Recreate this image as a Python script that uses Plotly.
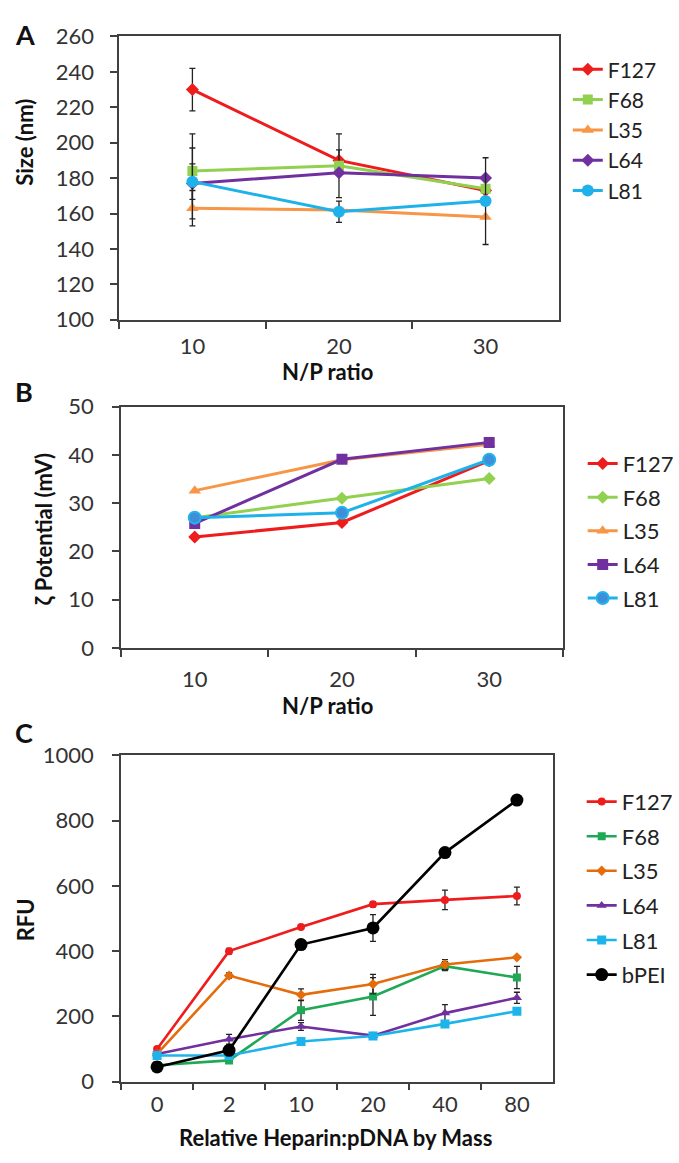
import plotly.graph_objects as go

NaN = float("nan")

# ---------- Panel A: size ----------
np_cats = ["10", "20", "30"]
series_ab = ["F127", "F68", "L35", "L64", "L81"]
size_vals = {
    "F127": [230, 190, 173],
    "F68": [184, 187, 174],
    "L35": [163, 162, 158],
    "L64": [177, 183, 180],
    "L81": [178, 161, 167],
}
size_err = {
    "F127": [12, 6, NaN],
    "F68": [21, 18, NaN],
    "L35": [10, NaN, NaN],
    "L64": [20, NaN, NaN],
    "L81": [10, 6, 24.5],
}
size_ticks = [100, 120, 140, 160, 180, 200, 220, 240, 260]

# ---------- Panel B: zeta potential ----------
zeta_vals = {
    "F127": [23.0, 26.0, 38.8],
    "F68": [27.0, 31.0, 35.1],
    "L35": [32.6, 39.0, 42.2],
    "L64": [25.8, 39.1, 42.6],
    "L81": [27.0, 28.0, 39.0],
}
zeta_ticks = [0, 10, 20, 30, 40, 50]

# ---------- Panel C: RFU ----------
hep_cats = ["0", "2", "10", "20", "40", "80"]
series_c = ["F127", "F68", "L35", "L64", "L81", "bPEI"]
rfu_vals = {
    "F127": [100, 400, 474, 544, 557, 569],
    "F68": [50, 65, 219, 261, 354, 319],
    "L35": [85, 325, 266, 299, 359, 381],
    "L64": [85, 130, 169, 141, 210, 257],
    "L81": [80, 80, 123, 140, 177, 216],
    "bPEI": [45, 96, 420, 471, 702, 863],
}
rfu_err = {
    "F127": [NaN, 8, NaN, 8, 30, 27],
    "F68": [NaN, NaN, 31, 58, 14, 34],
    "L35": [NaN, 8, 18, 30, 15, NaN],
    "L64": [NaN, 15, 12, NaN, 26, 17],
    "L81": [NaN, NaN, NaN, 6, NaN, NaN],
    "bPEI": [NaN, NaN, NaN, 41, NaN, NaN],
}
rfu_ticks = [0, 200, 400, 600, 800, 1000]

# ---------- styles ----------
style_a = {
    "F127": dict(color="#EE1C1C", symbol="diamond", size=10),
    "F68": dict(color="#92D050", symbol="square", size=10),
    "L35": dict(color="#F79646", symbol="triangle-up", size=11),
    "L64": dict(color="#7030A0", symbol="diamond", size=10),
    "L81": dict(color="#1FB2EA", symbol="circle", size=12),
}
style_b = {
    "F127": dict(color="#EE1C1C", symbol="diamond", size=10),
    "F68": dict(color="#92D050", symbol="diamond", size=10),
    "L35": dict(color="#F79646", symbol="triangle-up", size=11),
    "L64": dict(color="#7030A0", symbol="square", size=11),
    "L81": dict(color="#1FB2EA", symbol="circle", size=12),
}
style_c = {
    "F127": dict(color="#EE1C1C", symbol="circle", size=8),
    "F68": dict(color="#1FA855", symbol="square", size=8),
    "L35": dict(color="#E46C0A", symbol="diamond", size=8),
    "L64": dict(color="#7030A0", symbol="triangle-up", size=9),
    "L81": dict(color="#1CB4EA", symbol="square", size=9),
    "bPEI": dict(color="#000000", symbol="circle", size=13),
}

FONT = "Lato, Carlito, Calibri, Liberation Sans, sans-serif"
W, H = 679, 1163
TICK_SIZE = 22
TITLE_SIZE = 22

fig = go.Figure()


def err(arr):
    return dict(type="data", array=arr, visible=True, color="#222222",
                thickness=1.3, width=3)


for s in series_ab:
    st = style_a[s]
    fig.add_trace(go.Scatter(
        x=np_cats, y=size_vals[s], name=s, mode="lines+markers",
        line=dict(color=st["color"], width=3),
        marker=dict(color=st["color"], symbol=st["symbol"], size=st["size"]),
        error_y=err(size_err[s]),
        xaxis="x", yaxis="y", legend="legend"))

for s in series_ab:
    st = style_b[s]
    mk = dict(color=st["color"], symbol=st["symbol"], size=st["size"])
    if s == "L81":
        mk = dict(color="#3F8FD8", symbol="circle", size=12,
                  line=dict(color="#22B4EC", width=2))
    fig.add_trace(go.Scatter(
        x=np_cats, y=zeta_vals[s], name=s, mode="lines+markers",
        line=dict(color=st["color"], width=3),
        marker=mk,
        xaxis="x2", yaxis="y2", legend="legend2", legendgroup="b" + s))

for s in series_c:
    st = style_c[s]
    fig.add_trace(go.Scatter(
        x=hep_cats, y=rfu_vals[s], name=s, mode="lines+markers",
        line=dict(color=st["color"], width=2.6),
        marker=dict(color=st["color"], symbol=st["symbol"], size=st["size"]),
        error_y=err(rfu_err[s]),
        xaxis="x3", yaxis="y3", legend="legend3", legendgroup="c" + s))


def px_x(p):
    return p / W


def px_y(p):
    return 1 - p / H


def axis_common(standoff):
    return dict(showline=True, linecolor="#404040", linewidth=1.6,
                mirror=True, ticks="outside", ticklen=7, tickwidth=1.6,
                tickcolor="#404040", showgrid=False, zeroline=False,
                ticklabelstandoff=standoff,
                tickfont=dict(family=FONT, size=TICK_SIZE, color="#333333"))


fig.update_layout(
    width=W, height=H, margin=dict(l=0, r=0, t=0, b=0),
    paper_bgcolor="white", plot_bgcolor="white",
    font=dict(family=FONT, color="#222222"),
    xaxis=dict(domain=[px_x(120), px_x(563)], anchor="y", type="category",
               range=[-0.5, 2.5], tickson="boundaries", **axis_common(6)),
    yaxis=dict(domain=[px_y(313), px_y(23)], anchor="x", range=[100, 260],
               tickvals=size_ticks, **axis_common(12)),
    xaxis2=dict(domain=[px_x(122), px_x(567)], anchor="y2", type="category",
                range=[-0.5, 2.5], tickson="boundaries", **axis_common(11)),
    yaxis2=dict(domain=[px_y(649), px_y(402)], anchor="x2", range=[0, 50],
                tickvals=zeta_ticks, **axis_common(14)),
    xaxis3=dict(domain=[px_x(122), px_x(557)], anchor="y3", type="category",
                range=[-0.5, 5.5], tickson="boundaries", **axis_common(2)),
    yaxis3=dict(domain=[px_y(1093), px_y(759)], anchor="x3", range=[0, 1000],
                tickvals=rfu_ticks, **axis_common(14)),
    showlegend=True,
    legend=dict(x=px_x(572), y=px_y(36), xanchor="left", yanchor="top",
                font=dict(family=FONT, size=21, color="#222222"),
                bgcolor="rgba(0,0,0,0)"),
    legend2=dict(x=px_x(587), y=px_y(439), xanchor="left", yanchor="top",
                 font=dict(family=FONT, size=22, color="#222222"),
                 tracegroupgap=2, bgcolor="rgba(0,0,0,0)"),
    legend3=dict(x=px_x(586), y=px_y(785), xanchor="left", yanchor="top",
                 font=dict(family=FONT, size=22, color="#222222"),
                 tracegroupgap=3, bgcolor="rgba(0,0,0,0)"),
)

ann = []
# panel letters
for letter, yp in [("A", 21), ("B", 386), ("C", 736)]:
    ann.append(dict(text="<b>%s</b>" % letter, x=px_x(13), y=px_y(yp),
                    xref="paper", yref="paper", xanchor="left",
                    yanchor="middle", showarrow=False,
                    font=dict(family=FONT, size=27, color="#111111")))
# axis titles
for txt, xp, yp in [("Size (nm)", 25, 131), ("ζ Potential (mV)", 44, 528),
                    ("RFU", 26, 927)]:
    ann.append(dict(text="<b>%s</b>" % txt, x=px_x(xp), y=px_y(yp),
                    xref="paper", yref="paper", xanchor="center",
                    yanchor="middle", textangle=-90, showarrow=False,
                    font=dict(family=FONT, size=TITLE_SIZE, color="#111111")))
for txt, xp, yp in [("N/P ratio", 330, 366), ("N/P ratio", 330, 708),
                    ("Relative Heparin:pDNA by Mass", 338, 1150)]:
    ann.append(dict(text="<b>%s</b>" % txt, x=px_x(xp), y=px_y(yp),
                    xref="paper", yref="paper", xanchor="center",
                    yanchor="middle", showarrow=False,
                    font=dict(family=FONT, size=TITLE_SIZE, color="#111111")))
fig.update_layout(annotations=ann)

fig.write_html("out.html",
               config={"displayModeBar": False},
               post_script="document.body.style.margin='0';"
                           "document.body.style.overflow='hidden';")
